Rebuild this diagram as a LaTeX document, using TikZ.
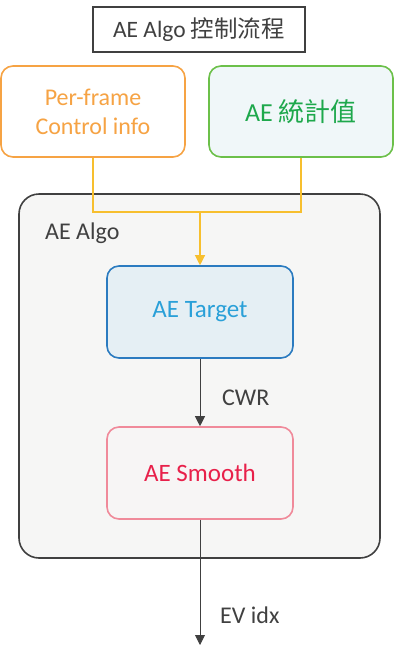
\documentclass[tikz,border=0pt]{standalone}
\usepackage{fontspec}
\setmainfont{Carlito}
\newfontfamily\cjk{Noto Sans CJK TC}
\usetikzlibrary{arrows.meta}
\definecolor{framegray}{HTML}{404040}
\definecolor{algofill}{HTML}{F6F6F5}
\definecolor{ctrlorange}{HTML}{F6A344}
\definecolor{statgreen}{HTML}{6CC04A}
\definecolor{stattext}{HTML}{1EA84C}
\definecolor{statfill}{HTML}{F0F7F9}
\definecolor{targetblue}{HTML}{2B7BC0}
\definecolor{targettext}{HTML}{2AA0D8}
\definecolor{targetfill}{HTML}{E5EFF4}
\definecolor{smoothpink}{HTML}{F08A9A}
\definecolor{smoothtext}{HTML}{E8204A}
\definecolor{smoothfill}{HTML}{F7F5F5}
\definecolor{feedyellow}{HTML}{F7BF2E}
\tikzstyle{flowbox}=[
      rectangle,
      line width = 1.6pt,
      rounded corners = 12pt,
      align = center,
      inner sep = 0pt,
      font = \fontsize{24}{29}\selectfont
      ]
\tikzstyle{titlebox}=[
      rectangle,
      draw = framegray,
      line width = 1.5pt,
      fill = white,
      minimum width = 212pt,
      minimum height = 45pt,
      text = framegray,
      font = \fontsize{23.5}{29}\selectfont
      ]
\tikzstyle{flowlabel}=[
      anchor = base west,
      inner sep = 0pt,
      text = framegray,
      font = \fontsize{24}{29}\selectfont
      ]
\tikzstyle{flowarrow}=[
      draw = framegray,
      line width = 0.9pt,
      -{Triangle[width=10pt,length=10pt]}
      ]

\begin{document}
\begin{tikzpicture}[x=1pt,y=-1pt]
\useasboundingbox (0,0) rectangle (405,654);

\node [titlebox] (title) at (199,29.5) {AE Algo {\cjk 控制流程}};

\node [flowbox, draw=ctrlorange, fill=white, text=ctrlorange,
       minimum width=184pt, minimum height=91pt] (ctrl) at (93,111.5)
  {Per-frame\\Control info};
\node [flowbox, draw=statgreen, fill=statfill, text=stattext,
       font=\fontsize{26}{29}\selectfont,
       minimum width=184pt, minimum height=91pt] (stat) at (301,111.5)
  {AE {\cjk 統計值}};

\node [flowbox, draw=framegray, fill=algofill, rounded corners=20pt,
       minimum width=361pt, minimum height=364pt] (algo) at (199.5,376) {};
\node [flowlabel] (algoname) at (45,239) {AE Algo};

\node [flowbox, draw=targetblue, fill=targetfill, text=targettext,
       font=\fontsize{25}{29}\selectfont,
       minimum width=186pt, minimum height=92pt] (target) at (200,312)
  {AE Target};
\node [flowbox, draw=smoothpink, fill=smoothfill, text=smoothtext,
       font=\fontsize{25}{29}\selectfont,
       minimum width=186pt, minimum height=92pt] (smooth) at (200,473)
  {AE Smooth};

\coordinate (merge) at (200,212);
\coordinate (evout) at (200,645);

\draw [draw=feedyellow, line width=1.2pt] (ctrl.south) |- (merge) -| (stat.south);
\draw [flowarrow, line width=1.2pt, draw=feedyellow, fill=feedyellow] (merge) -- (target.north);
\draw [flowarrow, fill=framegray] (target.south) -- (smooth.north);
\draw [flowarrow, fill=framegray] (smooth.south) -- (evout);

\node [flowlabel] (cwr) at (222,405) {CWR};
\node [flowlabel] (evidx) at (220,623) {EV idx};
\end{tikzpicture}
\end{document}
